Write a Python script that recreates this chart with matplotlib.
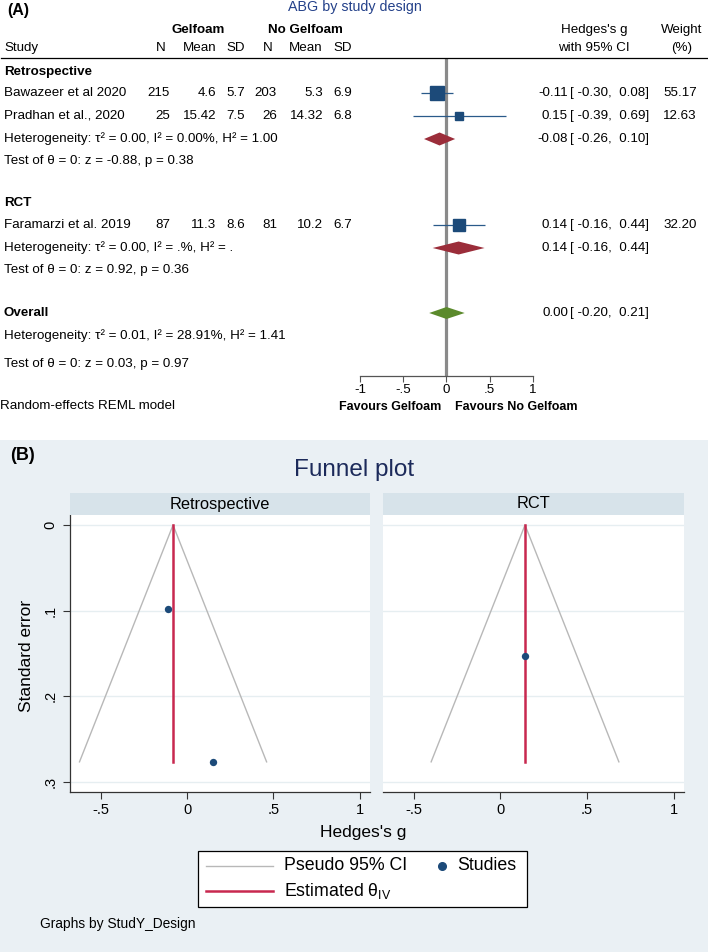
import numpy as np
import matplotlib
matplotlib.use("Agg")
import matplotlib.pyplot as plt
from matplotlib.patches import Rectangle

plt.rcParams['font.family'] = ['Liberation Sans', 'DejaVu Sans']
plt.rcParams['mathtext.fontset'] = 'custom'
plt.rcParams['mathtext.rm'] = 'Liberation Sans'
plt.rcParams['mathtext.it'] = 'Liberation Sans'

# ---------------- data ----------------
studies = ["Bawazeer et al 2020", "Pradhan et al., 2020", "Faramarzi et al. 2019"]
design = ["Retrospective", "Retrospective", "RCT"]
gel_n = [215, 25, 87]
gel_mean = ["4.6", "15.42", "11.3"]
gel_sd = ["5.7", "7.5", "8.6"]
nog_n = [203, 26, 81]
nog_mean = ["5.3", "14.32", "10.2"]
nog_sd = ["6.9", "6.8", "6.7"]
g = [-0.11, 0.15, 0.14]
g_lo = [-0.30, -0.39, -0.16]
g_hi = [0.08, 0.69, 0.44]
weight = [55.17, 12.63, 32.20]
se = [0.098, 0.2765, 0.153]

groups = ["Retrospective", "RCT"]
sub_g = [-0.08, 0.14]
sub_lo = [-0.26, -0.16]
sub_hi = [0.10, 0.44]
sub_het = ["Heterogeneity: τ² = 0.00, I² = 0.00%, H² = 1.00",
           "Heterogeneity: τ² = 0.00, I² = .%, H² = ."]
sub_test = ["Test of θ = 0: z = -0.88, p = 0.38",
            "Test of θ = 0: z = 0.92, p = 0.36"]
overall = (0.00, -0.20, 0.21)
overall_het = "Heterogeneity: τ² = 0.01, I² = 28.91%, H² = 1.41"
overall_test = "Test of θ = 0: z = 0.03, p = 0.97"

theta_iv = [-0.081, 0.142]
se_max = 0.2765

forest_ticks = [-1, -0.5, 0, 0.5, 1]
forest_ticklabels = ["-1", "-.5", "0", ".5", "1"]
funnel_xticks = [-0.5, 0, 0.5, 1]
funnel_xticklabels = ["-.5", "0", ".5", "1"]
funnel_yticks = [0, 0.1, 0.2, 0.3]
funnel_yticklabels = ["0", ".1", ".2", ".3"]

# ---------------- layout helpers ----------------
W, H = 708, 952
fig = plt.figure(figsize=(W / 100, H / 100), dpi=100)
fig.patch.set_facecolor('white')

def fx(x):
    return x / W

def fy(y):
    return 1 - y / H

BG = '#EAF0F4'
STRIP = '#D7E3EA'
NAVY = '#1C4A79'
RED = '#9B2D3A'
GREEN = '#5B8A2C'
CIGRAY = '#B8B8B8'
CRIMSON = '#C8284F'
FS = 9.6

fig.patches.append(Rectangle((0, 0), 1, fy(440), transform=fig.transFigure,
                             facecolor=BG, edgecolor='none', zorder=-10))

ax_t = fig.add_axes([0, 0, 1, 1], zorder=5)
ax_t.set_xlim(0, W)
ax_t.set_ylim(H, 0)
ax_t.axis('off')

def T(x, y, s, ha='left', **kw):
    kw.setdefault('fontsize', FS)
    ax_t.text(x, y, s, ha=ha, va='center', **kw)

# ---------------- Panel A ----------------
T(7, 11, "(A)", fontsize=11.5, fontweight='bold')
T(355, 7, "ABG by study design", ha='center', fontsize=10.3, color='#24418A')
T(198, 30, "Gelfoam", ha='center', fontweight='bold')
T(305, 30, "No Gelfoam", ha='center', fontweight='bold')
T(4, 48, "Study")
for x, s in zip([166, 216, 245, 273, 323, 352], ["N", "Mean", "SD", "N", "Mean", "SD"]):
    T(x, 48, s, ha='right')
T(594, 30, "Hedges's g", ha='center')
T(594, 48, "with 95% CI", ha='center')
T(682, 30, "Weight", ha='center')
T(682, 48, "(%)", ha='center')
ax_t.plot([1, W], [58, 58], color='black', lw=0.9)

study_rows = [93, 116, 225]
group_rows = [72, 203]
sub_rows = [139, 248]
test_rows = [161, 270]
overall_row = 313

for gi, grp in enumerate(groups):
    T(4, group_rows[gi], grp, fontweight='bold')
    T(4, sub_rows[gi], sub_het[gi])
    T(4, test_rows[gi], sub_test[gi])
for i, s in enumerate(studies):
    y = study_rows[i]
    T(4, y, s)
    T(170, y, str(gel_n[i]), ha='right')
    T(216, y, gel_mean[i], ha='right')
    T(245, y, gel_sd[i], ha='right')
    T(277, y, str(nog_n[i]), ha='right')
    T(323, y, nog_mean[i], ha='right')
    T(352, y, nog_sd[i], ha='right')

def es_text(y, e, lo, hi, w=None):
    T(568, y, f"{e:.2f}", ha='right')
    T(649, y, f"[ {lo:.2f},  {hi:.2f}]", ha='right')
    if w is not None:
        T(697, y, f"{w:.2f}", ha='right')

for i in range(3):
    es_text(study_rows[i], g[i], g_lo[i], g_hi[i], weight[i])
for gi in range(2):
    es_text(sub_rows[gi], sub_g[gi], sub_lo[gi], sub_hi[gi])
es_text(overall_row, *overall)

T(4, overall_row, "Overall", fontweight='bold')
T(4, 336, overall_het)
T(4, 364, overall_test)
T(0, 406, "Random-effects REML model")
T(441, 407, "Favours Gelfoam", ha='right', fontweight='bold', fontsize=9.0)
T(455, 407, "Favours No Gelfoam", ha='left', fontweight='bold', fontsize=9.0)

# forest axes
ax_f = fig.add_axes([fx(360), fy(376), (533 - 360) / W, (376 - 58) / H])
ax_f.set_xlim(-1, 1)
ax_f.set_ylim(376, 58)
ax_f.patch.set_alpha(0)
for sp in ['top', 'right', 'left']:
    ax_f.spines[sp].set_visible(False)
ax_f.spines['bottom'].set_color('#555555')
ax_f.spines['bottom'].set_linewidth(0.9)
ax_f.set_yticks([])
ax_f.set_xticks(forest_ticks)
ax_f.set_xticklabels(forest_ticklabels, fontsize=FS)
ax_f.tick_params(axis='x', direction='out', length=4, width=0.8, color='#555555', pad=2)
ax_f.axvline(0, color='#8A8A8A', lw=2.3, zorder=1)

for i in range(3):
    y = study_rows[i]
    ax_f.hlines(y, g_lo[i], g_hi[i], color='#2A5A8A', lw=0.9, zorder=2)
    ax_f.plot(g[i], y, marker='s', ms=2 * np.sqrt(weight[i]) * 0.72,
              color=NAVY, mec=NAVY, zorder=3)

def diamond(y, e, lo, hi, c, h=6.5):
    ax_f.fill([lo, e, hi, e], [y, y - h, y, y + h], color=c, lw=0, zorder=3)

for gi in range(2):
    diamond(sub_rows[gi], sub_g[gi], sub_lo[gi], sub_hi[gi], RED)
diamond(overall_row, overall[0], overall[1], overall[2], GREEN, h=6)

# ---------------- Panel B ----------------
T(10, 456, "(B)", fontsize=13, fontweight='bold')
T(354, 470, "Funnel plot", ha='center', fontsize=17.5, color='#1C2A5A')

panels = [(70, 370), (383, 684)]
xl = (-0.678, 1.06)
yl = (0.3117, -0.0117)
for pi, (x0, x1) in enumerate(panels):
    ax_t.add_patch(Rectangle((x0, 493), x1 - x0, 22, facecolor=STRIP, edgecolor='none'))
    T((x0 + x1) / 2, 504, groups[pi], ha='center', fontsize=11.8)
    ax = fig.add_axes([fx(x0), fy(792), (x1 - x0) / W, (792 - 515) / H])
    ax.set_facecolor('white')
    ax.set_xlim(*xl)
    ax.set_ylim(*yl)
    for sp in ['top', 'right']:
        ax.spines[sp].set_visible(False)
    ax.spines['bottom'].set_color('#333333')
    ax.spines['bottom'].set_linewidth(0.9)
    ax.set_xticks(funnel_xticks)
    ax.set_xticklabels(funnel_xticklabels, fontsize=10.5)
    ax.tick_params(axis='x', direction='out', length=5, width=0.8, color='#333333', pad=3)
    for yt in funnel_yticks:
        ax.axhline(yt, color='#E6EEF1', lw=1, zorder=0)
    if pi == 0:
        ax.spines['left'].set_color('#333333')
        ax.spines['left'].set_linewidth(0.9)
        ax.set_yticks(funnel_yticks)
        ax.set_yticklabels(funnel_yticklabels, fontsize=10.5, rotation=90, va='center')
        ax.tick_params(axis='y', direction='out', length=5, width=0.8, color='#333333', pad=4)
    else:
        ax.spines['left'].set_visible(False)
        ax.set_yticks([])
    th = theta_iv[pi]
    ax.plot([th - 1.96 * se_max, th, th + 1.96 * se_max], [se_max, 0, se_max],
            color=CIGRAY, lw=1, zorder=2)
    ax.plot([th, th], [0, se_max], color=CRIMSON, lw=1.8, zorder=3)
    idx = [i for i in range(3) if design[i] == groups[pi]]
    ax.scatter([g[i] for i in idx], [se[i] for i in idx], s=28, color=NAVY, zorder=4,
               linewidths=0)

T(27, 656, "Standard error", ha='center', fontsize=12.5, rotation=90)
T(363, 833, "Hedges's g", ha='center', fontsize=12.5)

# legend (drawn as a key box)
LFS = 12.8
ax_t.add_patch(Rectangle((198, 851), 329, 56, facecolor='white', edgecolor='black', lw=0.9))
ax_t.plot([206, 273], [866, 866], color=CIGRAY, lw=1)
ax_t.plot([206, 273], [891, 891], color=CRIMSON, lw=1.8)
T(284, 866, "Pseudo 95% CI", fontsize=LFS)
T(284, 891, "Estimated θ$_{\\mathrm{IV}}$", fontsize=LFS)
ax_t.plot([442], [866], marker='o', ms=5.5, color=NAVY, ls='none')
T(457, 866, "Studies", fontsize=LFS)

T(40, 924, "Graphs by StudY_Design", fontsize=9.9)

fig.savefig("out.png", dpi=100)
